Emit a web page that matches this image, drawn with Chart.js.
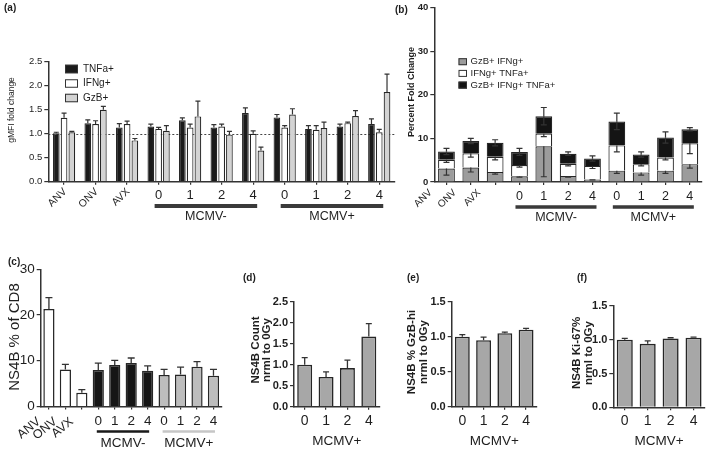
<!DOCTYPE html>
<html>
<head>
<meta charset="utf-8">
<script src="https://cdn.jsdelivr.net/npm/chart.js@4.4.1/dist/chart.umd.min.js"></script>
<style>
  body { margin: 0; background: #fff; }
  #wrap { position: relative; width: 709px; height: 452px; overflow: hidden; }
  #wrap canvas { position: absolute; left: 0; top: 0; }
</style>
</head>
<body>
<div id="wrap"></div>
<script>
// ---- data ----
const groupLabels = ['ANV', 'ONV', 'AVX', '0', '1', '2', '4', '0', '1', '2', '4'];
const groupNames = ['MCMV-', 'MCMV+'];
const doseLabels = ['0', '1', '2', '4'];

// (a) gMFI fold change
const aTNFa = [1.01, 1.22, 1.13, 1.15, 1.28, 1.13, 1.43, 1.34, 1.10, 1.15, 1.20];
const aTNFaErr = [0.02, 0.07, 0.08, 0.05, 0.05, 0.06, 0.11, 0.06, 0.07, 0.05, 0.11];
const aIFNg = [1.33, 1.20, 1.20, 1.10, 1.13, 1.15, 1.00, 1.13, 1.08, 1.22, 1.03];
const aIFNgErr = [0.10, 0.07, 0.06, 0.03, 0.07, 0.05, 0.06, 0.04, 0.09, 0.02, 0.06];
const aGzB = [1.03, 1.50, 0.86, 1.06, 1.36, 0.98, 0.65, 1.40, 1.12, 1.37, 1.87];
const aGzBErr = [0.02, 0.07, 0.04, 0.11, 0.32, 0.07, 0.07, 0.12, 0.12, 0.11, 0.37];

// (b) percent fold change, stacked segments
const bGzbIfng = [3.1, 3.3, 2.3, 1.3, 8.2, 1.4, 0.6, 2.6, 2.2, 2.6, 4.1];
const bGzbIfngErr = [1.5, 1.0, 0.5, 0.2, 7.0, 0.3, 0.1, 0.6, 0.6, 0.6, 0.9];
const bIfngTnfa = [2.0, 3.3, 3.5, 2.6, 2.9, 2.8, 3.1, 5.8, 1.9, 3.0, 4.8];
const bIfngTnfaErr = [0.6, 0.9, 0.7, 0.5, 0.7, 0.5, 0.6, 1.5, 0.4, 0.5, 2.4];
const bTriple = [1.9, 2.8, 3.2, 3.0, 4.0, 2.3, 1.7, 5.5, 2.2, 4.6, 3.2];
const bTripleErr = [0.7, 0.6, 0.7, 0.8, 2.0, 0.4, 0.6, 1.9, 0.6, 1.3, 0.4];

// (c) NS4B % of CD8
const cValues = [21.3, 8.1, 3.0, 8.0, 9.1, 9.5, 7.8, 6.9, 7.0, 8.7, 6.7];
const cErr = [2.5, 1.1, 0.7, 1.5, 1.0, 1.1, 1.1, 1.2, 1.6, 1.1, 1.4];

// (d) (e) (f) MCMV+ normalised to 0Gy
const dCount = [1.00, 0.71, 0.92, 1.67];
const dCountErr = [0.17, 0.12, 0.19, 0.31];
const eGzbHi = [1.00, 0.95, 1.05, 1.10];
const eGzbHiErr = [0.03, 0.045, 0.015, 0.02];
const fKi67 = [1.00, 0.94, 1.02, 1.03];
const fKi67Err = [0.02, 0.045, 0.01, 0.01];

// ---- styles ----
const W = 709, H = 452;
const AX = '#333';
const TXT = '#1e1e1e';
const SANS = '"Liberation Sans", Arial, sans-serif';
const YW = 30, XH = 6;

const wrap = document.getElementById('wrap');

function newCanvas() {
  const c = document.createElement('canvas');
  c.width = W; c.height = H;
  c.style.width = W + 'px'; c.style.height = H + 'px';
  wrap.appendChild(c);
  return c;
}

function text(ctx, str, x, y, font, align, rot) {
  ctx.save();
  ctx.fillStyle = TXT;
  ctx.font = font;
  ctx.textAlign = align || 'left';
  ctx.textBaseline = 'middle';
  ctx.translate(x, y);
  if (rot) ctx.rotate(rot);
  ctx.fillText(str, 0, 0);
  ctx.restore();
}

// error bars: 'up' draws mean+err, 'stack' draws mean-err on every segment and +err on the top one
const errorBars = {
  id: 'errorBars',
  afterDatasetsDraw(chart, args, opts) {
    const ctx = chart.ctx, y = chart.scales.y;
    const n = chart.data.datasets.length;
    chart.data.datasets.forEach((ds, di) => {
      if (!ds.errors) return;
      const meta = chart.getDatasetMeta(di);
      meta.data.forEach((bar, i) => {
        const v = y.getValueForPixel(bar.y);
        const e = ds.errors[i];
        const ends = [];
        if (opts.mode === 'stack') {
          ends.push(y.getPixelForValue(v - e));
          if (di === n - 1) ends.push(y.getPixelForValue(v + e));
        } else {
          ends.push(y.getPixelForValue(v + e));
        }
        ctx.save();
        ctx.strokeStyle = opts.color || AX;
        ctx.lineWidth = opts.width || 1.2;
        ends.forEach(py => {
          ctx.beginPath();
          ctx.moveTo(bar.x, bar.y);
          ctx.lineTo(bar.x, py);
          ctx.moveTo(bar.x - opts.cap / 2, py);
          ctx.lineTo(bar.x + opts.cap / 2, py);
          ctx.stroke();
        });
        ctx.restore();
      });
    });
  }
};

function groupAxis(chart, o) {
  const ctx = chart.ctx, x = chart.scales.x;
  chart.data.labels.forEach((lab, i) => {
    const px = x.getPixelForTick(i);
    if (i < 3) {
      text(ctx, lab, px + o.rotDx, o.rotY, o.rotFont, 'right', -o.rotAngle);
    } else {
      text(ctx, lab, px, o.numY, o.numFont, 'center');
    }
  });
  [[3, 6], [7, 10]].forEach(([from, to], gi) => {
    const x0 = x.getPixelForTick(from) - o.ext, x1 = x.getPixelForTick(to) + o.ext;
    ctx.save();
    ctx.fillStyle = o.lineColors[gi];
    ctx.fillRect(x0, o.lineY - o.lineW / 2, x1 - x0, o.lineW);
    ctx.restore();
    text(ctx, groupNames[gi], (x0 + x1) / 2, o.grpY, o.grpFont, 'center');
  });
}

function doseAxis(chart, o) {
  const ctx = chart.ctx, x = chart.scales.x;
  chart.data.labels.forEach((lab, i) => {
    text(ctx, lab, x.getPixelForTick(i), o.numY, o.numFont, 'center');
  });
  text(ctx, groupNames[1], (x.left + x.right) / 2, o.grpY, o.grpFont, 'center');
}

function legend(chart, o) {
  const ctx = chart.ctx;
  chart.data.datasets.forEach((ds, i) => {
    const y = o.y + i * o.dy;
    ctx.save();
    ctx.fillStyle = ds.backgroundColor;
    ctx.fillRect(o.x, y - o.bh / 2, o.bw, o.bh);
    ctx.strokeStyle = AX; ctx.lineWidth = 1;
    ctx.strokeRect(o.x + 0.5, y - o.bh / 2 + 0.5, o.bw - 1, o.bh - 1);
    ctx.restore();
    text(ctx, ds.label, o.x + o.bw + o.gap, y, o.font, 'left');
  });
}

function barPanel(p) {
  return new Chart(newCanvas(), {
    type: 'bar',
    data: { labels: p.labels, datasets: p.datasets },
    options: {
      responsive: false,
      animation: false,
      devicePixelRatio: 1,
      layout: { padding: { left: p.box.l - YW, top: p.box.t, right: W - p.box.r, bottom: H - p.box.b - XH } },
      datasets: { bar: { categoryPercentage: p.catPct, barPercentage: p.barPct } },
      plugins: {
        legend: { display: false },
        tooltip: { enabled: false },
        errorBars: p.err
      },
      scales: {
        x: {
          stacked: !!p.stacked,
          offset: true,
          grid: { offset: false, drawOnChartArea: false, drawTicks: true, tickLength: 3, color: AX, lineWidth: 1.2 },
          border: { display: true, color: AX, width: 1.5 },
          ticks: { display: false },
          afterFit: s => { s.height = XH; }
        },
        y: {
          stacked: !!p.stacked,
          min: 0,
          max: p.yMax,
          ticks: { stepSize: p.yStep, font: p.yFont, color: TXT, padding: 2, callback: p.yFmt || (v => v) },
          grid: { drawOnChartArea: false, drawTicks: true, tickLength: 4, color: AX, lineWidth: 1.2 },
          border: { display: true, color: AX, width: 1.5 },
          afterFit: s => { s.width = YW; }
        }
      }
    },
    plugins: [errorBars, { id: 'deco' + p.name, beforeDatasetsDraw: p.before, afterDraw: p.after }]
  });
}

const fmt1 = v => v.toFixed(1);
const BAR_BORDER = '#262626';

// ---- (a) ----
barPanel({
  name: 'a',
  box: { l: 48.3, t: 61.7, r: 395, b: 181.7 },
  labels: groupLabels,
  catPct: 0.74, barPct: 0.86,
  yMax: 2.5, yStep: 0.5, yFmt: fmt1,
  yFont: { family: SANS, size: 9.5 },
  err: { mode: 'up', cap: 5, width: 1.2 },
  datasets: [
    { label: 'TNFa+', data: aTNFa, errors: aTNFaErr, backgroundColor: '#1b1b1b', borderColor: BAR_BORDER, borderWidth: 1.2 },
    { label: 'IFNg+', data: aIFNg, errors: aIFNgErr, backgroundColor: '#ffffff', borderColor: BAR_BORDER, borderWidth: 1.2 },
    { label: 'GzB+', data: aGzB, errors: aGzBErr, backgroundColor: '#d3d3d3', borderColor: BAR_BORDER, borderWidth: 1.2 }
  ],
  before(chart) {
    const ctx = chart.ctx, y = chart.scales.y, area = chart.chartArea;
    const py = Math.round(y.getPixelForValue(1)) + 0.5;
    ctx.save();
    ctx.strokeStyle = '#444'; ctx.lineWidth = 1; ctx.setLineDash([2, 2]);
    ctx.beginPath(); ctx.moveTo(area.left, py); ctx.lineTo(area.right, py); ctx.stroke();
    ctx.restore();
  },
  after(chart) {
    const ctx = chart.ctx;
    groupAxis(chart, {
      rotDx: 1, rotY: 190, rotAngle: Math.PI / 4, rotFont: '10.5px ' + SANS,
      numY: 195, numFont: '13px ' + SANS,
      ext: 4, lineY: 206, lineW: 4, lineColors: ['#3a3a3a', '#3a3a3a'],
      grpY: 217, grpFont: '12.5px ' + SANS
    });
    legend(chart, { x: 65, y: 69, dy: 14.5, bw: 13, bh: 8.5, gap: 5, font: '10px ' + SANS });
    text(ctx, 'gMFI fold change', 12, 110, '8.5px ' + SANS, 'center', -Math.PI / 2);
    text(ctx, '(a)', 4, 8, 'bold 10px ' + SANS, 'left');
  }
});

// ---- (b) ----
barPanel({
  name: 'b',
  box: { l: 434.3, t: 5, r: 702, b: 182 },
  labels: groupLabels,
  stacked: true,
  catPct: 0.69, barPct: 1,
  yMax: 40, yStep: 10,
  yFont: { family: SANS, size: 9.5, weight: 'bold' },
  err: { mode: 'stack', cap: 6, width: 1.2 },
  datasets: [
    { label: 'GzB+ IFNg+', data: bGzbIfng, errors: bGzbIfngErr, backgroundColor: '#9c9c9c', borderColor: BAR_BORDER, borderWidth: 1.2 },
    { label: 'IFNg+ TNFa+', data: bIfngTnfa, errors: bIfngTnfaErr, backgroundColor: '#ffffff', borderColor: BAR_BORDER, borderWidth: 1.2 },
    { label: 'GzB+ IFNg+ TNFa+', data: bTriple, errors: bTripleErr, backgroundColor: '#141414', borderColor: BAR_BORDER, borderWidth: 1.2 }
  ],
  after(chart) {
    const ctx = chart.ctx;
    groupAxis(chart, {
      rotDx: -16, rotY: 191, rotAngle: Math.PI / 4, rotFont: '10px ' + SANS,
      numY: 197, numFont: '12.5px ' + SANS,
      ext: 4, lineY: 207, lineW: 3.5, lineColors: ['#3a3a3a', '#3a3a3a'],
      grpY: 218, grpFont: '12.5px ' + SANS
    });
    legend(chart, { x: 458.5, y: 61.7, dy: 11.7, bw: 8.5, bh: 7, gap: 3.5, font: '9.5px ' + SANS });
    text(ctx, 'Percent Fold Change', 412, 92, 'bold 9px ' + SANS, 'center', -Math.PI / 2);
    text(ctx, '(b)', 395, 10, 'bold 10px ' + SANS, 'left');
  }
});

// ---- (c) ----
const cColors = groupLabels.map((_, i) => i < 3 ? '#ffffff' : (i < 7 ? '#161616' : '#bdbdbd'));
barPanel({
  name: 'c',
  box: { l: 40.7, t: 269.3, r: 221.7, b: 406.5 },
  labels: groupLabels,
  catPct: 0.68, barPct: 1,
  yMax: 30, yStep: 10,
  yFont: { family: SANS, size: 13.5 },
  err: { mode: 'up', cap: 7, width: 1.3 },
  datasets: [
    { label: 'NS4B % of CD8', data: cValues, errors: cErr, backgroundColor: cColors, borderColor: BAR_BORDER, borderWidth: 1.5 }
  ],
  after(chart) {
    const ctx = chart.ctx;
    groupAxis(chart, {
      rotDx: -10, rotY: 420, rotAngle: Math.PI * 0.22, rotFont: '12.5px ' + SANS,
      numY: 421, numFont: '13.5px ' + SANS,
      ext: 1.5, lineY: 431.5, lineW: 2.5, lineColors: ['#1a1a1a', '#c6c6c6'],
      grpY: 443, grpFont: '13.5px ' + SANS
    });
    text(ctx, 'NS4B % of CD8', 15, 337, '15px ' + SANS, 'center', -Math.PI / 2);
    text(ctx, '(c)', 8, 262, 'bold 10px ' + SANS, 'left');
  }
});

// ---- (d) (e) (f) ----
function dosePanel(name, box, yMax, values, errs, title1, title2, titleX, titleY, letterX) {
  barPanel({
    name,
    box,
    labels: doseLabels,
    catPct: 0.7, barPct: 1,
    yMax, yStep: 0.5, yFmt: fmt1,
    yFont: { family: SANS, size: 11, weight: 'bold' },
    err: { mode: 'up', cap: 6, width: 1.3 },
    datasets: [
      { label: title1, data: values, errors: errs, backgroundColor: '#a7a7a7', borderColor: BAR_BORDER, borderWidth: 1.6 }
    ],
    after(chart) {
      const ctx = chart.ctx;
      doseAxis(chart, { numY: 421.5, numFont: '14px ' + SANS, grpY: 441.5, grpFont: '13.5px ' + SANS });
      text(ctx, title1, titleX, titleY, 'bold 11.5px ' + SANS, 'center', -Math.PI / 2);
      text(ctx, title2, titleX + 11.5, titleY, 'bold 11.5px ' + SANS, 'center', -Math.PI / 2);
      text(ctx, '(' + name + ')', letterX, 278, 'bold 10px ' + SANS, 'left');
    }
  });
}

dosePanel('d', { l: 294, t: 301.7, r: 379.5, b: 406.7 }, 2.5, dCount, dCountErr,
  'NS4B Count', 'nrml to 0Gy', 255.5, 350, 243);
dosePanel('e', { l: 451.7, t: 301.7, r: 536.7, b: 406.7 }, 1.5, eGzbHi, eGzbHiErr,
  'NS4B % GzB-hi', 'nrml to 0Gy', 412, 352, 407);
dosePanel('f', { l: 613.3, t: 306, r: 705, b: 407.3 }, 1.5, fKi67, fKi67Err,
  'NS4B Ki-67%', 'nrml to 0Gy', 577, 353, 577);
</script>
</body>
</html>
